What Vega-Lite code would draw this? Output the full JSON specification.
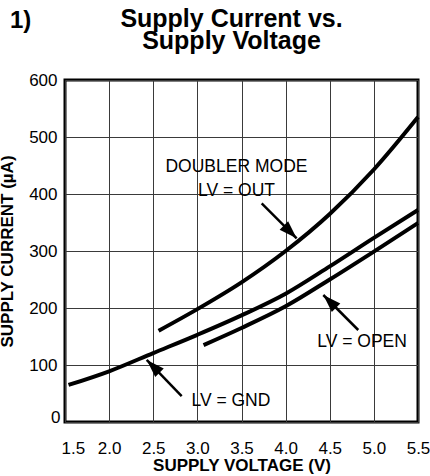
{
  "$schema": "https://vega.github.io/schema/vega-lite/v6.json",
  "width": 353,
  "height": 342,
  "autosize": {"type": "none"},
  "padding": {"left": 65, "top": 80, "right": 12, "bottom": 54},
  "background": "white",
  "title": {
    "text": ["Supply Current vs.", "Supply Voltage"],
    "font": "Liberation Sans",
    "fontSize": 25,
    "fontWeight": "bold",
    "lineHeight": 22,
    "offset": -45,
    "dx": -10,
    "anchor": "middle",
    "color": "black"
  },
  "config": {
    "font": "Liberation Sans",
    "view": {"stroke": "black", "strokeWidth": 3},
    "axis": {
      "labelFont": "Liberation Sans",
      "labelFontSize": 17,
      "labelColor": "black",
      "titleFont": "Liberation Sans",
      "titleFontSize": 17,
      "titleFontWeight": "bold",
      "titleColor": "black",
      "gridColor": "#3a3a3a",
      "gridWidth": 1,
      "gridOpacity": 1,
      "ticks": false,
      "domain": false
    }
  },
  "datasets": {
    "curves": [
      {"series": "GND", "voltage": 1.54, "current": 65},
      {"series": "GND", "voltage": 2.0, "current": 89},
      {"series": "GND", "voltage": 2.5, "current": 121},
      {"series": "GND", "voltage": 3.0, "current": 153},
      {"series": "GND", "voltage": 3.5, "current": 187},
      {"series": "GND", "voltage": 4.0, "current": 225},
      {"series": "GND", "voltage": 4.5, "current": 273},
      {"series": "GND", "voltage": 5.0, "current": 323},
      {"series": "GND", "voltage": 5.5, "current": 372},
      {"series": "OPEN", "voltage": 3.07, "current": 135},
      {"series": "OPEN", "voltage": 3.5, "current": 165},
      {"series": "OPEN", "voltage": 4.0, "current": 203},
      {"series": "OPEN", "voltage": 4.5, "current": 250},
      {"series": "OPEN", "voltage": 5.0, "current": 299},
      {"series": "OPEN", "voltage": 5.5, "current": 349},
      {"series": "OUT", "voltage": 2.56, "current": 160},
      {"series": "OUT", "voltage": 3.0, "current": 198},
      {"series": "OUT", "voltage": 3.5, "current": 245},
      {"series": "OUT", "voltage": 4.0, "current": 300},
      {"series": "OUT", "voltage": 4.5, "current": 365},
      {"series": "OUT", "voltage": 5.0, "current": 443},
      {"series": "OUT", "voltage": 5.5, "current": 535}
    ],
    "notes": [
      {"label": "DOUBLER MODE", "voltage": 3.443, "current": 447},
      {"label": "LV = OUT", "voltage": 3.443, "current": 405},
      {"label": "LV = OPEN", "voltage": 4.866, "current": 141},
      {"label": "LV = GND", "voltage": 3.38, "current": 37}
    ],
    "arrows": [
      {"name": "OUT", "tailV": 3.729, "tailI": 383.7, "tipV": 4.125, "tipI": 322.3},
      {"name": "OPEN", "tailV": 4.823, "tailI": 161.4, "tipV": 4.427, "tipI": 222.8},
      {"name": "GND", "tailV": 2.822, "tailI": 45.6, "tipV": 2.426, "tipI": 108.8}
    ],
    "tag": [
      {"label": "1)", "voltage": 0.877, "current": 691}
    ]
  },
  "layer": [
    {
      "data": {"name": "curves"},
      "mark": {"type": "line", "color": "black", "strokeWidth": 4, "interpolate": "monotone"},
      "encoding": {
        "x": {
          "field": "voltage",
          "type": "quantitative",
          "scale": {"domain": [1.5, 5.5], "nice": false, "zero": false},
          "axis": {
            "title": "SUPPLY VOLTAGE (V)",
            "values": [1.5, 2, 2.5, 3, 3.5, 4, 4.5, 5, 5.5],
            "format": ".1f",
            "labelPadding": 18,
            "titlePadding": 1,
            "labelAlign": {"condition": {"test": "datum.value == 1.5", "value": "left"}, "value": "center"},
            "labelOffset": {"condition": {"test": "datum.value == 1.5", "value": -4}, "value": 0}
          }
        },
        "y": {
          "field": "current",
          "type": "quantitative",
          "scale": {"domain": [0, 600], "nice": false},
          "axis": {
            "title": "SUPPLY CURRENT (µA)",
            "values": [0, 100, 200, 300, 400, 500, 600],
            "labelPadding": {"condition": {"test": "datum.value == 0", "value": 5}, "value": 8},
            "labelBaseline": {"condition": {"test": "datum.value == 0", "value": "alphabetic"}, "value": "middle"},
            "titlePadding": 12
          }
        },
        "detail": {"field": "series", "type": "nominal"}
      }
    },
    {
      "data": {"name": "arrows"},
      "mark": {"type": "rule", "color": "black", "strokeWidth": 2.5},
      "encoding": {
        "x": {"field": "tailV", "type": "quantitative"},
        "y": {"field": "tailI", "type": "quantitative"},
        "x2": {"field": "tipV"},
        "y2": {"field": "tipI"}
      }
    },
    {
      "data": {"name": "arrows"},
      "transform": [{"filter": "datum.name == 'OUT'"}],
      "mark": {"type": "point", "shape": "M0,-1L0.667,1L-0.667,1Z", "filled": true, "color": "black", "opacity": 1, "size": 324, "angle": 135, "xOffset": -6.4, "yOffset": -6.4},
      "encoding": {
        "x": {"field": "tipV", "type": "quantitative"},
        "y": {"field": "tipI", "type": "quantitative"}
      }
    },
    {
      "data": {"name": "arrows"},
      "transform": [{"filter": "datum.name != 'OUT'"}],
      "mark": {"type": "point", "shape": "M0,-1L0.667,1L-0.667,1Z", "filled": true, "color": "black", "opacity": 1, "size": 324, "angle": 315, "xOffset": 6.4, "yOffset": 6.4},
      "encoding": {
        "x": {"field": "tipV", "type": "quantitative"},
        "y": {"field": "tipI", "type": "quantitative"}
      }
    },
    {
      "data": {"name": "notes"},
      "mark": {"type": "text", "fontSize": 17.5, "align": "center", "baseline": "middle", "color": "black"},
      "encoding": {
        "x": {"field": "voltage", "type": "quantitative"},
        "y": {"field": "current", "type": "quantitative"},
        "text": {"field": "label", "type": "nominal"}
      }
    },
    {
      "data": {"name": "tag"},
      "mark": {"type": "text", "fontSize": 24, "fontWeight": "bold", "align": "left", "baseline": "alphabetic", "color": "black"},
      "encoding": {
        "x": {"field": "voltage", "type": "quantitative"},
        "y": {"field": "current", "type": "quantitative"},
        "text": {"field": "label", "type": "nominal"}
      }
    }
  ]
}
